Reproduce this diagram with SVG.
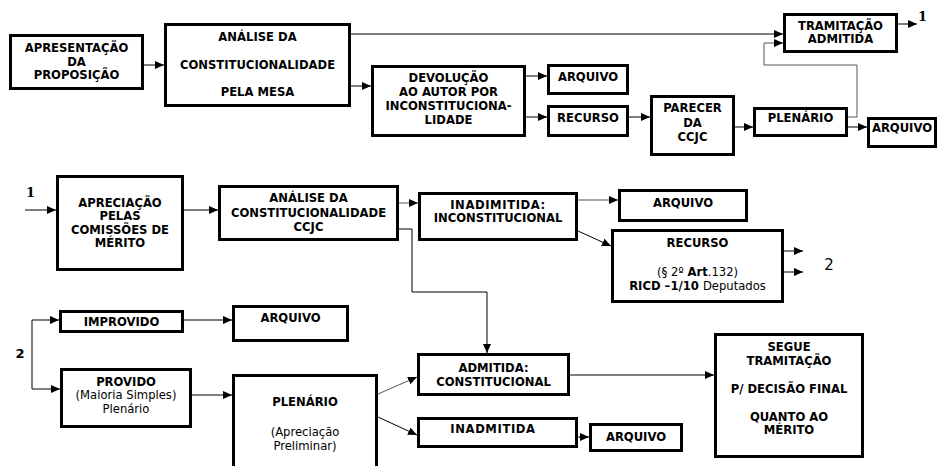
<svg xmlns="http://www.w3.org/2000/svg" width="940" height="466" viewBox="0 0 940 466">
<defs>
<marker id="a" markerWidth="9" markerHeight="8" refX="9" refY="4" orient="auto" markerUnits="userSpaceOnUse"><path d="M0,0 L9,4 L0,8 z" fill="#000"/></marker>
<style>
.b{fill:#fff;stroke:#000;stroke-width:3}
.t{font-family:"DejaVu Sans","Liberation Sans",sans-serif;font-size:11.6px;font-weight:bold;text-anchor:middle;fill:#000}
.r{font-weight:normal}
.c{fill:none;stroke:#000;stroke-width:1;marker-end:url(#a)}
.g{stroke:#555}
.s{font-family:"DejaVu Serif","Liberation Serif",serif;font-size:13px;font-weight:bold;fill:#000}
.l2{font-size:13px}
.r2{font-size:15px;font-weight:normal}
</style>
</defs>
<rect width="940" height="466" fill="#fff"/>

<g id="connectors">
<path class="c" d="M144,65 H164"/>
<path class="c" d="M351,34 H783"/>
<path class="c" d="M351,86 H371"/>
<path class="c" d="M526,76 H547"/>
<path class="c" d="M526,117 H547"/>
<path class="c" d="M629,117 H650"/>
<path class="c" d="M735,127 H753"/>
<path class="c" d="M848,127 H867"/>
<path class="c g" d="M848,117 H857 V65 H764 V43 H783"/>
<path class="c" d="M898,24 H917"/>
<path class="c" d="M25,210 H56"/>
<path class="c" d="M184,210 H218"/>
<path class="c g" d="M399,203 H418"/>
<path class="c" d="M399,229 H412 V292 H487 V353"/>
<path class="c g" d="M578,200 H618"/>
<path class="c" d="M578,231 L611,246"/>
<path class="c" d="M784,251 H803"/>
<path class="c" d="M784,272 H803"/>
<path class="c" d="M32,354 V320 H59"/>
<path class="c" d="M32,354 V389 H60"/>
<path class="c" d="M184,320 H232"/>
<path class="c" d="M192,395 H232"/>
<path class="c g" d="M378,394 L417,377"/>
<path class="c" d="M378,417 L417,435"/>
<path class="c" d="M570,375 H714"/>
<path class="c" d="M578,437 H589"/>
<text class="s" x="918" y="21">1</text>
<text class="s" x="26" y="197">1</text>
<text class="t l2" x="20" y="358">2</text>
<text class="t r2" x="829" y="270">2</text>
</g>

<g id="apresentacao">
<rect class="b" x="10.5" y="35.5" width="132" height="53"/>
<text class="t" x="76.5" y="52">APRESENTAÇÃO</text>
<text class="t" x="76.5" y="66">DA</text>
<text class="t" x="76.5" y="79">PROPOSIÇÃO</text>
</g>

<g id="analise-mesa">
<rect class="b" x="165.5" y="24.5" width="184" height="81"/>
<text class="t" x="257.5" y="41">ANÁLISE DA</text>
<text class="t" x="257.5" y="69">CONSTITUCIONALIDADE</text>
<text class="t" x="257.5" y="96">PELA MESA</text>
</g>

<g id="devolucao">
<rect class="b" x="372.5" y="66.5" width="152" height="69"/>
<text class="t" x="448.5" y="82">DEVOLUÇÃO</text>
<text class="t" x="448.5" y="96">AO AUTOR POR</text>
<text class="t" x="448.5" y="110">INCONSTITUCIONA-</text>
<text class="t" x="448.5" y="124">LIDADE</text>
</g>

<g id="arquivo1">
<rect class="b" x="548.5" y="65.5" width="79" height="28"/>
<text class="t" x="588" y="81">ARQUIVO</text>
</g>

<g id="recurso1">
<rect class="b" x="548.5" y="106.5" width="79" height="29"/>
<text class="t" x="588" y="122">RECURSO</text>
</g>

<g id="parecer">
<rect class="b" x="651.5" y="96.5" width="82" height="58"/>
<text class="t" x="692.5" y="112">PARECER</text>
<text class="t" x="692.5" y="127">DA</text>
<text class="t" x="692.5" y="141">CCJC</text>
</g>

<g id="plenario1">
<rect class="b" x="754.5" y="108.5" width="92" height="27"/>
<text class="t" x="800.5" y="122">PLENÁRIO</text>
</g>

<g id="arquivo2">
<rect class="b" x="868.5" y="118.5" width="67" height="28"/>
<text class="t" x="902" y="132">ARQUIVO</text>
</g>

<g id="tramitacao">
<rect class="b" x="784.5" y="14.5" width="112" height="37"/>
<text class="t" x="840.5" y="30">TRAMITAÇÃO</text>
<text class="t" x="840.5" y="43">ADMITIDA</text>
</g>

<g id="apreciacao">
<rect class="b" x="57.5" y="176.5" width="125" height="93"/>
<text class="t" x="120" y="207">APRECIAÇÃO</text>
<text class="t" x="120" y="220">PELAS</text>
<text class="t" x="120" y="234">COMISSÕES DE</text>
<text class="t" x="120" y="247">MÉRITO</text>
</g>

<g id="analise-ccjc">
<rect class="b" x="219.5" y="186.5" width="178" height="53"/>
<text class="t" x="308.5" y="202">ANÁLISE DA</text>
<text class="t" x="308.5" y="217">CONSTITUCIONALIDADE</text>
<text class="t" x="308.5" y="231">CCJC</text>
</g>

<g id="inadmitida1">
<rect class="b" x="419.5" y="193.5" width="157" height="46"/>
<text class="t" x="498" y="209" letter-spacing="0.6">INADIMITIDA:</text>
<text class="t" x="498" y="222">INCONSTITUCIONAL</text>
</g>

<g id="arquivo3">
<rect class="b" x="619.5" y="190.5" width="127" height="30"/>
<text class="t" x="683" y="207">ARQUIVO</text>
</g>

<g id="recurso2">
<rect class="b" x="612.5" y="230.5" width="170" height="71"/>
<text class="t" x="697.5" y="247">RECURSO</text>
<text class="t r" x="697.5" y="276">(§ 2º <tspan font-weight="bold">Art</tspan>.132)</text>
<text class="t" x="697.5" y="290">RICD –1/10 <tspan font-weight="normal">Deputados</tspan></text>
</g>

<g id="improvido">
<rect class="b" x="60.5" y="311.5" width="122" height="20"/>
<text class="t" x="121.5" y="326">IMPROVIDO</text>
</g>

<g id="arquivo4">
<rect class="b" x="233.5" y="306.5" width="114" height="34"/>
<text class="t" x="290.5" y="322">ARQUIVO</text>
</g>

<g id="provido">
<rect class="b" x="61.5" y="369.5" width="129" height="57"/>
<text class="t" x="126" y="386">PROVIDO</text>
<text class="t r" x="126" y="399">(Maioria Simples)</text>
<text class="t r" x="126" y="413">Plenário</text>
</g>

<g id="plenario2">
<rect class="b" x="233.5" y="375.5" width="143" height="100"/>
<text class="t" x="305" y="406">PLENÁRIO</text>
<text class="t r" x="305" y="436">(Apreciação</text>
<text class="t r" x="305" y="450">Preliminar)</text>
</g>

<g id="admitida">
<rect class="b" x="418.5" y="354.5" width="150" height="40"/>
<text class="t" x="493.5" y="372">ADMITIDA:</text>
<text class="t" x="493.5" y="386">CONSTITUCIONAL</text>
</g>

<g id="inadmitida2">
<rect class="b" x="418.5" y="418.5" width="158" height="28"/>
<text class="t" x="493" y="433" letter-spacing="0.6">INADMITIDA</text>
</g>

<g id="arquivo5">
<rect class="b" x="590.5" y="424.5" width="91" height="26"/>
<text class="t" x="636" y="441">ARQUIVO</text>
</g>

<g id="segue">
<rect class="b" x="715.5" y="334.5" width="147" height="122"/>
<text class="t" x="789" y="351">SEGUE</text>
<text class="t" x="789" y="365">TRAMITAÇÃO</text>
<text class="t" x="789" y="393">P/ DECISÃO FINAL</text>
<text class="t" x="789" y="421">QUANTO AO</text>
<text class="t" x="789" y="434">MÉRITO</text>
</g>
</svg>
